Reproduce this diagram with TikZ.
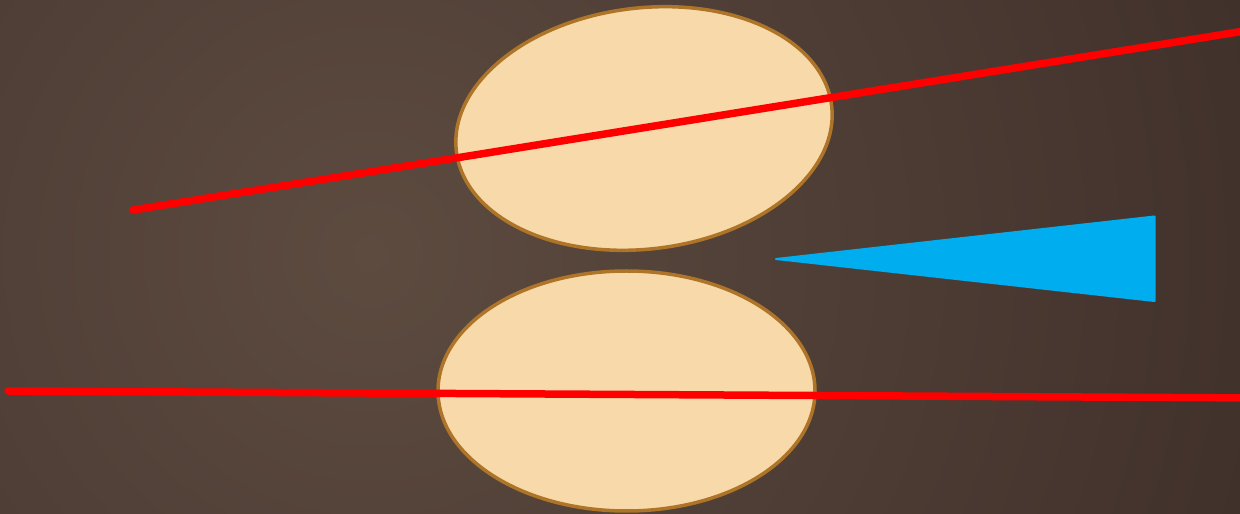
\documentclass[tikz,border=0pt]{standalone}
\usetikzlibrary{shapes.geometric}
\definecolor{bgin}{HTML}{5D4B40}
\definecolor{bgout}{HTML}{2E201D}
\definecolor{eggfill}{HTML}{F8DAAA}
\definecolor{eggline}{HTML}{AE7428}
\definecolor{wedge}{HTML}{00AEEF}
\tikzset{
  egg/.style={ellipse, draw=eggline, fill=eggfill, line width=3.5pt, inner sep=0pt},
  redline/.style={draw=red, line width=7.5pt, line cap=round},
}
\begin{document}
\begin{tikzpicture}[x=1pt,y=1pt]
\useasboundingbox (0,0) rectangle (1240,514);
\begin{scope}
\clip (0,0) rectangle (1240,514);
\shade[inner color=bgin, outer color=bgout] (370,260) circle (1500);
\node[egg, minimum width=378pt, minimum height=241pt, rotate=7] (top) at (644,385.5) {};
\node[egg, minimum width=377pt, minimum height=240pt] (bottom) at (626.5,123) {};
\coordinate (a1) at (133,304);
\coordinate (a2) at (1260,485.5);
\coordinate (b1) at (8,123);
\coordinate (b2) at (1260,116);
\draw[redline] (a1) -- (a2);
\draw[redline] (b1) -- (b2);
\coordinate (t1) at (776,255);
\coordinate (t2) at (1154.5,297.5);
\coordinate (t3) at (1154.5,213);
\filldraw[fill=wedge, draw=wedge, line width=2pt, line join=round] (t1) -- (t2) -- (t3) -- cycle;
\end{scope}
\end{tikzpicture}
\end{document}
